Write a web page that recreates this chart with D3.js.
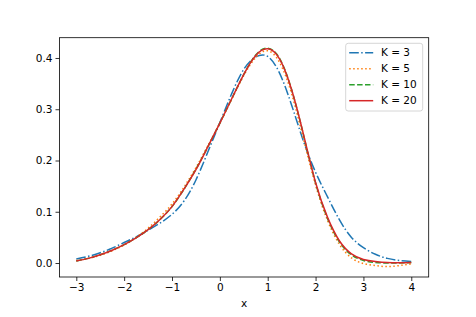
<!DOCTYPE html>
<html>
<head>
<meta charset="utf-8">
<script src="https://cdn.jsdelivr.net/npm/d3@7"></script>
<style>
  body { margin: 0; background: #fff; }
  svg { display: block; font-family: "DejaVu Sans", sans-serif; }
</style>
</head>
<body>
<div id="chart"></div>
<script>
// valeurs
const xs = [-3, -2.75, -2.5, -2.25, -2, -1.75, -1.5, -1.25, -1, -0.75, -0.5, -0.25, 0, 0.25, 0.5, 0.75,
  1, 1.25, 1.5, 1.75, 2, 2.25, 2.5, 2.75, 3, 3.25, 3.5, 3.75, 4];

const k3 = [0.008, 0.013, 0.020, 0.029, 0.040, 0.051, 0.064, 0.078, 0.095, 0.121, 0.162, 0.217, 0.274, 0.331, 0.378, 0.402,
  0.403, 0.370, 0.308, 0.237, 0.177, 0.129, 0.084, 0.050, 0.030, 0.017, 0.009, 0.005, 0.003];
const k5 = [0.005, 0.009, 0.015, 0.024, 0.035, 0.050, 0.068, 0.090, 0.115, 0.148, 0.186, 0.229, 0.273, 0.320, 0.366, 0.401,
  0.414, 0.391, 0.330, 0.241, 0.152, 0.083, 0.036, 0.010, -0.001, -0.005, -0.007, -0.005, -0.002];
const k10 = [0.004, 0.009, 0.016, 0.025, 0.036, 0.049, 0.065, 0.085, 0.110, 0.144, 0.183, 0.227, 0.273, 0.321, 0.368, 0.406,
  0.419, 0.399, 0.338, 0.249, 0.156, 0.087, 0.041, 0.016, 0.005, 0.001, 0.000, 0.000, 0.001];
const k20 = [0.004, 0.009, 0.016, 0.025, 0.036, 0.049, 0.065, 0.085, 0.110, 0.144, 0.182, 0.227, 0.273, 0.321, 0.368, 0.405,
  0.418, 0.398, 0.338, 0.250, 0.157, 0.089, 0.043, 0.018, 0.007, 0.003, 0.001, 0.0005, 0.001];

const labels = ["K = 3", "K = 5", "K = 10", "K = 20"];
const colors = ["#1f77b4", "#ff7f0e", "#2ca02c", "#d62728"];
const dashes = ["9.6,2.4,1.5,2.4", "1.5,2.5", "5.5,2.4", null];
const xTicks = [-3, -2, -1, 0, 1, 2, 3, 4];
const yTicks = [0, 0.1, 0.2, 0.3, 0.4];

const width = 476, height = 317;
const margin = ({top: 37.7, right: 47.3, bottom: 40, left: 59.5});

const svg = d3.select("#chart").append("svg")
    .attr("width", width)
    .attr("height", height)
    .attr("viewBox", [0, 0, width, height]);

const x = d3.scaleLinear()
    .domain([-3.351, 4.364])
    .range([margin.left, width - margin.right]);

const y = d3.scaleLinear()
    .domain([-0.0273, 0.4396])
    .range([height - margin.bottom, margin.top]);

//Les courbes
const series = [k3, k5, k10, k20];
const line = d3.line()
    .x((d, i) => x(xs[i]))
    .y(d => y(d))
    .curve(d3.curveNatural);

series.forEach((s, i) => {
  svg.append("path")
    .attr("d", line(s))
    .attr("fill", "none")
    .attr("stroke", colors[i])
    .attr("stroke-width", 1.5)
    .attr("stroke-dasharray", dashes[i]);
});

//Axes
const xAxis = g => g
    .attr("transform", `translate(0,${height - margin.bottom})`)
    .call(d3.axisBottom(x).tickValues(xTicks).tickFormat(d3.format("d")).tickSize(4).tickPadding(3))
    .call(g => g.select(".domain").remove());

const yAxis = g => g
    .attr("transform", `translate(${margin.left},0)`)
    .call(d3.axisLeft(y).tickValues(yTicks).tickFormat(d3.format(".1f")).tickSize(4).tickPadding(3))
    .call(g => g.select(".domain").remove());

svg.append("g").call(xAxis);
svg.append("g").call(yAxis);

svg.selectAll(".tick text")
    .attr("font-size", 10.5)
    .attr("font-family", "DejaVu Sans")
    .attr("fill", "#000");
svg.selectAll(".tick line").attr("stroke", "#000").attr("stroke-width", 0.8);

//Cadre
svg.append("rect")
    .attr("x", margin.left)
    .attr("y", margin.top)
    .attr("width", width - margin.left - margin.right)
    .attr("height", height - margin.top - margin.bottom)
    .attr("fill", "none")
    .attr("stroke", "#000")
    .attr("stroke-width", 0.8);

//Titre axe x
svg.append("text")
    .attr("x", (margin.left + width - margin.right) / 2)
    .attr("y", 307)
    .attr("text-anchor", "middle")
    .attr("font-size", 10.5)
    .text("x");

//Légende
const legend = svg.append("g").attr("transform", "translate(345.7,43.3)");
legend.append("rect")
    .attr("width", 77)
    .attr("height", 67.7)
    .attr("rx", 2.5)
    .attr("fill", "#fff")
    .attr("fill-opacity", 0.8)
    .attr("stroke", "#cccccc")
    .attr("stroke-width", 0.8);

labels.forEach((lab, i) => {
  const yy = 9.4 + 16 * i;
  legend.append("line")
    .attr("x1", 3.5).attr("x2", 27.5)
    .attr("y1", yy).attr("y2", yy)
    .attr("stroke", colors[i])
    .attr("stroke-width", 1.5)
    .attr("stroke-dasharray", dashes[i]);
  legend.append("text")
    .attr("x", 35.3)
    .attr("y", yy)
    .attr("dy", "0.36em")
    .attr("font-size", 10.5)
    .text(lab);
});
</script>
</body>
</html>
